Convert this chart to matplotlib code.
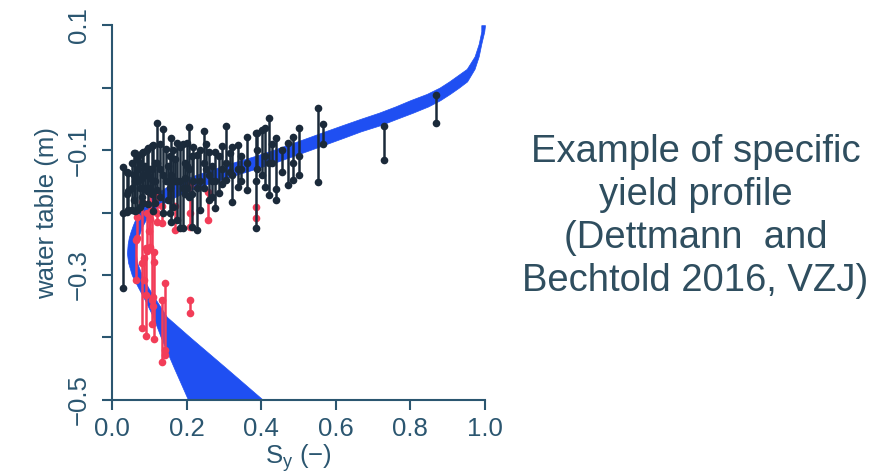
import numpy as np
import matplotlib
matplotlib.use("Agg")
import matplotlib.pyplot as plt

plt.rcParams['font.family'] = ['Liberation Sans', 'DejaVu Sans']
plt.rcParams['mathtext.fontset'] = 'custom'
plt.rcParams['mathtext.rm'] = 'Liberation Sans'

# blue band: range of Sy at each water table depth
band_depth = [0.10, 0.09, 0.07, 0.05, 0.03, 0.01, 0.0, -0.01, -0.02, -0.03,
              -0.04, -0.05, -0.06, -0.07, -0.08, -0.09, -0.10, -0.11, -0.12, -0.13,
              -0.14, -0.15, -0.16, -0.17, -0.18, -0.19, -0.20, -0.21, -0.22, -0.23,
              -0.24, -0.25, -0.265, -0.28, -0.30, -0.32, -0.34, -0.367, -0.40, -0.45,
              -0.50]
band_lo = [0.990, 0.990, 0.983, 0.972, 0.951, 0.904, 0.878, 0.844, 0.800, 0.760,
           0.716, 0.666, 0.618, 0.571, 0.525, 0.478, 0.431, 0.380, 0.324, 0.273,
           0.223, 0.180, 0.143, 0.118, 0.097, 0.083, 0.072, 0.063, 0.056, 0.050,
           0.045, 0.042, 0.040, 0.043, 0.053, 0.070, 0.088, 0.110, 0.131, 0.167,
           0.204]
band_hi = [1.000, 0.998, 0.990, 0.983, 0.972, 0.952, 0.930, 0.906, 0.880, 0.848,
           0.807, 0.763, 0.720, 0.667, 0.622, 0.576, 0.530, 0.483, 0.436, 0.385,
           0.330, 0.278, 0.227, 0.187, 0.152, 0.125, 0.105, 0.092, 0.083, 0.076,
           0.070, 0.066, 0.064, 0.067, 0.080, 0.097, 0.118, 0.147, 0.210, 0.308,
           0.405]

# black observation ranges
blk_x = [0.869, 0.729, 0.552, 0.566, 0.500, 0.486, 0.472, 0.440, 0.421, 0.410,
         0.402, 0.390, 0.386, 0.362, 0.338, 0.322, 0.305, 0.294, 0.287, 0.276,
         0.260, 0.247, 0.236, 0.228, 0.214, 0.206, 0.200, 0.190, 0.182, 0.174,
         0.164, 0.158, 0.155, 0.137, 0.120, 0.110, 0.107, 0.097, 0.094, 0.084,
         0.080, 0.075, 0.067, 0.062, 0.059, 0.054, 0.043, 0.040, 0.030, 0.145,
         0.128, 0.088, 0.070, 0.115, 0.170, 0.195, 0.218, 0.268, 0.345, 0.430,
         0.455, 0.102, 0.150, 0.253, 0.315]
blk_top = [-0.012, -0.061, -0.033, -0.059, -0.065, -0.079, -0.089, -0.080, -0.049, -0.065,
           -0.068, -0.073, -0.072, -0.079, -0.092, -0.095, -0.062, -0.093, -0.110, -0.103,
           -0.103, -0.069, -0.100, -0.108, -0.110, -0.063, -0.089, -0.090, -0.095, -0.089,
           -0.100, -0.081, -0.110, -0.066, -0.057, -0.092, -0.094, -0.097, -0.100, -0.103,
           -0.105, -0.121, -0.115, -0.105, -0.105, -0.121, -0.137, -0.135, -0.127, -0.098,
           -0.090, -0.125, -0.110, -0.120, -0.115, -0.120, -0.095, -0.125, -0.110, -0.090,
           -0.100, -0.130, -0.125, -0.090, -0.105]
blk_bot = [-0.057, -0.116, -0.151, -0.090, -0.140, -0.148, -0.156, -0.180, -0.172, -0.159,
           -0.140, -0.130, -0.224, -0.164, -0.159, -0.183, -0.148, -0.155, -0.169, -0.193,
           -0.180, -0.160, -0.196, -0.228, -0.223, -0.175, -0.160, -0.225, -0.225, -0.212,
           -0.191, -0.215, -0.200, -0.200, -0.164, -0.197, -0.170, -0.187, -0.165, -0.185,
           -0.175, -0.191, -0.196, -0.198, -0.180, -0.196, -0.196, -0.199, -0.321, -0.150,
           -0.175, -0.160, -0.150, -0.185, -0.150, -0.170, -0.150, -0.175, -0.150, -0.120,
           -0.135, -0.160, -0.180, -0.130, -0.135]
blk_mid = [np.nan, np.nan, np.nan, np.nan, -0.110, -0.120, np.nan, -0.163, -0.120, -0.110,
           np.nan, -0.100, -0.150, -0.120, -0.130, -0.140, -0.120, -0.130, np.nan, -0.150,
           -0.140, -0.120, -0.150, -0.160, -0.170, -0.130, -0.125, -0.160, -0.150, -0.150,
           -0.150, -0.140, -0.160, -0.140, -0.120, -0.150, -0.130, -0.140, -0.130, -0.140,
           -0.145, -0.160, -0.150, -0.150, -0.140, -0.160, -0.165, -0.170, -0.200, np.nan,
           -0.130, np.nan, -0.130, -0.150, np.nan, -0.145, np.nan, -0.150, -0.130, np.nan,
           np.nan, -0.145, -0.150, np.nan, np.nan]

# red observation ranges
red_x = [0.064, 0.068, 0.080, 0.086, 0.090, 0.093, 0.102, 0.107, 0.113, 0.110,
         0.133, 0.142, 0.209, 0.209, 0.257, 0.386, 0.170, 0.134, 0.120, 0.098]
red_top = [-0.244, -0.207, -0.183, -0.272, -0.257, -0.200, -0.169, -0.197, -0.263, -0.335,
           -0.340, -0.313, -0.340, -0.156, -0.167, -0.191, -0.190, -0.190, -0.175, -0.185]
red_bot = [-0.308, -0.240, -0.385, -0.308, -0.397, -0.262, -0.255, -0.378, -0.402, -0.350,
           -0.440, -0.428, -0.361, -0.223, -0.212, -0.209, -0.228, -0.217, -0.215, -0.230]
red_mid = [np.nan, np.nan, -0.280, np.nan, -0.332, np.nan, -0.210, -0.340, -0.279, np.nan,
           np.nan, -0.420, np.nan, -0.200, np.nan, np.nan, np.nan, np.nan, -0.200, np.nan]

BAND_C = '#1f4ff2'
BLK_C = '#1b2a3a'
RED_C = '#f23d58'
AX_C = '#2b5670'
TXT_C = '#2f4e5f'

fig = plt.figure(figsize=(8.87, 4.75), dpi=100)
ax = fig.add_axes([0.1263, 0.158, 0.4205, 0.789])

ax.fill_betweenx(band_depth, band_lo, band_hi, color=BAND_C, lw=0.5,
                 edgecolor=BAND_C, zorder=1)

ax.vlines(red_x, red_bot, red_top, color=RED_C, lw=1.8, zorder=2)
ax.plot(red_x + red_x + red_x, red_top + red_bot + red_mid, 'o', color=RED_C,
        ms=5.5, mew=0, zorder=2)

ax.vlines(blk_x, blk_bot, blk_top, color=BLK_C, lw=1.8, zorder=3)
ax.plot(blk_x + blk_x + blk_x, blk_top + blk_bot + blk_mid, 'o', color=BLK_C,
        ms=5.5, mew=0, zorder=3)

ax.set_xlim(0, 1.0)
ax.set_ylim(-0.5, 0.1)
for s in ['top', 'right']:
    ax.spines[s].set_visible(False)
for s in ['left', 'bottom']:
    ax.spines[s].set_color(AX_C)
    ax.spines[s].set_linewidth(1.5)

ax.set_xticks([0.0, 0.2, 0.4, 0.6, 0.8, 1.0])
ax.set_xticklabels(['0.0', '0.2', '0.4', '0.6', '0.8', '1.0'])
ax.set_yticks([0.1, 0.0, -0.1, -0.2, -0.3, -0.4, -0.5])
ax.set_yticklabels(['0.1', '', '\u22120.1', '', '\u22120.3', '', '\u22120.5'],
                   rotation=90, va='center')
ax.tick_params(axis='both', colors=AX_C, labelcolor=AX_C, length=7, width=1.5,
               labelsize=18.5)
ax.tick_params(axis='x', pad=5)
ax.tick_params(axis='y', pad=8)

ax.set_xlabel('S$_\\mathregular{y}$ (\u2212)', color=AX_C, fontsize=18.5, labelpad=1)
ax.set_ylabel('water table (m)', color=AX_C, fontsize=18.5, labelpad=6)

fig.text(0.784, 0.545, 'Example of specific\nyield profile\n(Dettmann  and\nBechtold 2016, VZJ)',
         ha='center', va='center', fontsize=27.5, color=TXT_C, linespacing=1.25)

fig.savefig('out.png', dpi=100)
